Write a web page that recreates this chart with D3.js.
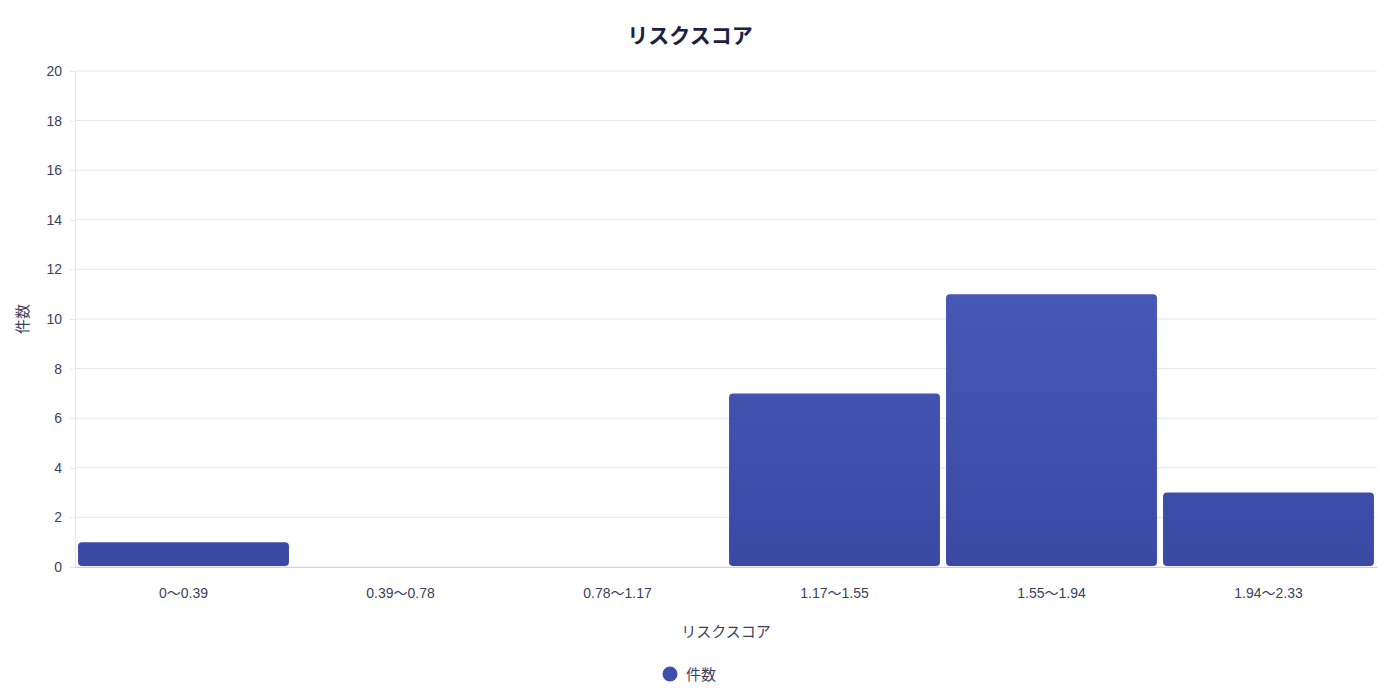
<!DOCTYPE html>
<html>
<head>
<meta charset="utf-8">
<script src="https://cdn.jsdelivr.net/npm/d3@7"></script>
<style>
  html, body { margin: 0; padding: 0; background: #fff; }
  svg { display: block; font-family: "Noto Sans CJK JP", "Noto Sans", sans-serif; }
</style>
</head>
<body>
<svg id="chart"></svg>
<script>
// data
const categories = ["0〜0.39", "0.39〜0.78", "0.78〜1.17", "1.17〜1.55", "1.55〜1.94", "1.94〜2.33"];
const counts = [1, 0, 0, 7, 11, 3];
const yTicks = [0, 2, 4, 6, 8, 10, 12, 14, 16, 18, 20];
const seriesName = "件数";
const chartTitle = "リスクスコア";
const xTitle = "リスクスコア";

const W = 1400, H = 697;
const margin = { top: 71, right: 23, bottom: 130, left: 75 };
const width = W - margin.left - margin.right;
const height = H - margin.top - margin.bottom;

const svg = d3.select("#chart").attr("width", W).attr("height", H);

const defs = svg.append("defs");
const grad = defs.append("linearGradient")
  .attr("id", "barGrad")
  .attr("gradientUnits", "userSpaceOnUse")
  .attr("x1", 0).attr("x2", 0)
  .attr("y1", 0).attr("y2", height);
grad.append("stop").attr("offset", "0%").attr("stop-color", "#5064c4");
grad.append("stop").attr("offset", "100%").attr("stop-color", "#3a49a4");

const g = svg.append("g").attr("transform", `translate(${margin.left}, ${margin.top})`);

const x = d3.scaleBand().domain(categories).range([0, width]).paddingInner(0.028).paddingOuter(0.014);
const y = d3.scaleLinear().domain([0, 20]).range([height, 0]);

const tickFont = "'Liberation Sans', Arial, 'Noto Sans CJK JP', sans-serif";

// grid lines
g.append("g")
  .selectAll("line")
  .data(yTicks)
  .join("line")
  .attr("x1", 0).attr("x2", width)
  .attr("y1", d => y(d)).attr("y2", d => y(d))
  .attr("stroke", "#e4e5ef")
  .attr("stroke-width", 1);

// y axis
const yAxis = g.append("g")
  .call(d3.axisLeft(y).tickValues(yTicks).tickSize(5).tickPadding(8));
yAxis.select(".domain").attr("stroke", "#e4e5ef");
yAxis.selectAll(".tick line").attr("stroke", "#e4e5ef");
yAxis.selectAll("text")
  .attr("fill", "#3b3f5c")
  .style("font-size", "14px")
  .style("font-family", tickFont);

// x axis
const xAxis = g.append("g")
  .attr("transform", `translate(0, ${height})`)
  .call(d3.axisBottom(x).tickSize(0).tickPadding(21));
xAxis.select(".domain").attr("stroke", "#cfd1e2");
xAxis.selectAll("text")
  .attr("fill", "#3b3f5c")
  .style("font-size", "14px")
  .style("font-family", tickFont);

// bars
g.append("g")
  .selectAll("rect")
  .data(counts.map((v, i) => ({ cat: categories[i], v })).filter(d => d.v > 0))
  .join("rect")
  .attr("x", d => x(d.cat))
  .attr("y", d => y(d.v))
  .attr("width", x.bandwidth())
  .attr("height", d => y(0) - y(d.v) - 1)
  .attr("rx", 4).attr("ry", 4)
  .attr("fill", "url(#barGrad)");

// title
svg.append("text")
  .attr("x", 690)
  .attr("y", 43)
  .attr("text-anchor", "middle")
  .attr("fill", "#1c2142")
  .style("font-size", "21px")
  .style("font-weight", "bold")
  .text(chartTitle);

// x axis title
svg.append("text")
  .attr("x", margin.left + width / 2)
  .attr("y", 637)
  .attr("text-anchor", "middle")
  .attr("fill", "#3b3f5c")
  .style("font-size", "15px")
  .text(xTitle);

// y axis title
svg.append("text")
  .attr("transform", `translate(28, ${margin.top + height / 2}) rotate(-90)`)
  .attr("text-anchor", "middle")
  .attr("fill", "#3b3f5c")
  .style("font-size", "15px")
  .text(seriesName);

// legend
const legend = svg.append("g").attr("transform", "translate(670, 674)");
legend.append("circle").attr("r", 7.5).attr("fill", "#3d4eab");
legend.append("text")
  .attr("x", 16).attr("y", 5.5)
  .attr("fill", "#3b3f5c")
  .style("font-size", "15px")
  .text(seriesName);
</script>
</body>
</html>
